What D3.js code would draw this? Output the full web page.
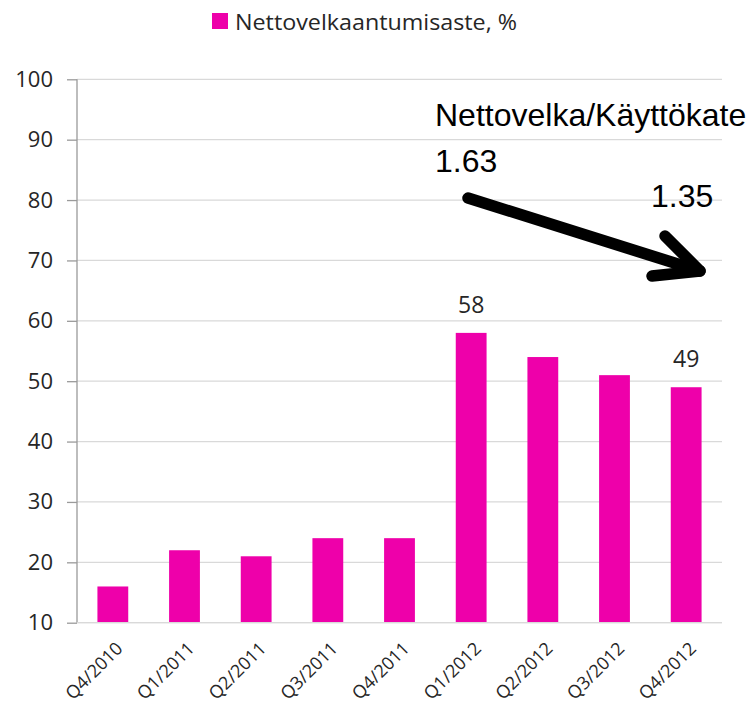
<!DOCTYPE html>
<html><head><meta charset="utf-8">
<script src="https://cdn.jsdelivr.net/npm/d3@7"></script>
<style>html,body{margin:0;padding:0;background:#fff;}</style>
</head><body>
<svg id="c" width="752" height="704"></svg>
<script>
const categories = ["Q4/2010","Q1/2011","Q2/2011","Q3/2011","Q4/2011","Q1/2012","Q2/2012","Q3/2012","Q4/2012"];
const values = [16, 22, 21, 24, 24, 58, 54, 51, 49];
const labeled = ["Q1/2012","Q4/2012"];
const yTicks = [10,20,30,40,50,60,70,80,90,100];
const seriesName = "Nettovelkaantumisaste, %";
const noteTitle = "Nettovelka/Käyttökate";
const noteStart = "1.63";
const noteEnd = "1.35";

const svg = d3.select("#c");
const barColor = "#EE00AA";
const pLeft = 77, pRight = 722, pTop = 79.3, pBottom = 622.7;

const x = d3.scaleBand().domain(categories).range([pLeft, pRight]).paddingInner(0.57).paddingOuter(0.285);
const y = d3.scaleLinear().domain([10, 100]).range([pBottom, pTop]);

// gridlines
svg.append("g").selectAll("line").data(yTicks).join("line")
  .attr("x1", pLeft).attr("x2", pRight)
  .attr("y1", d => y(d)).attr("y2", d => y(d))
  .attr("stroke", "#d9d9d9").attr("stroke-width", 1.3);

// y axis
const yAxis = d3.axisLeft(y).tickValues(yTicks).tickSize(10).tickPadding(14);
const ga = svg.append("g").attr("transform", `translate(${pLeft},0)`).call(yAxis);
ga.select(".domain").attr("stroke", "#9a9a9a").attr("stroke-width", 1.3).attr("d", `M0,${pTop}V${pBottom}`);
ga.selectAll(".tick line").attr("stroke", "#9a9a9a").attr("stroke-width", 1.3);
ga.selectAll(".tick text").attr("font-family", "Open Sans").attr("font-size", 22).attr("fill", "#262626");

// bars
svg.append("g").selectAll("rect").data(categories).join("rect")
  .attr("x", d => x(d)).attr("width", x.bandwidth())
  .attr("y", (d, i) => y(values[i])).attr("height", (d, i) => y(10) - y(values[i]))
  .attr("fill", barColor);

// bottom line
svg.append("line").attr("x1", pLeft).attr("x2", pRight).attr("y1", pBottom).attr("y2", pBottom)
  .attr("stroke", "#d9d9d9").attr("stroke-width", 1.3);

// x labels
const xAxis = d3.axisBottom(x).tickSize(0).tickPadding(0);
const gx = svg.append("g").attr("transform", `translate(0,${pBottom})`).call(xAxis);
gx.select(".domain").remove();
gx.selectAll(".tick text")
  .attr("font-family", "Open Sans").attr("font-size", 18).attr("fill", "#262626")
  .attr("text-anchor", "end").attr("dy", 0)
  .attr("transform", "translate(11,27) rotate(-45)");

// data labels
svg.append("g").selectAll("text").data(categories.filter(c => labeled.includes(c))).join("text")
  .attr("x", d => x(d) + x.bandwidth() / 2)
  .attr("y", d => y(values[categories.indexOf(d)]) - 20)
  .attr("text-anchor", "middle").attr("font-family", "Open Sans").attr("font-size", 23).attr("fill", "#262626")
  .text(d => values[categories.indexOf(d)]);

// legend
svg.append("rect").attr("x", 212).attr("y", 13).attr("width", 16).attr("height", 16).attr("fill", barColor);
svg.append("text").attr("x", 235).attr("y", 29.5).attr("font-family", "Open Sans").attr("font-size", 22)
  .attr("textLength", 282).attr("lengthAdjust", "spacingAndGlyphs").attr("fill", "#262626").text(seriesName);

// annotation
const ann = svg.append("g").attr("font-family", "Liberation Sans, Arial").attr("font-size", 32).attr("fill", "#000");
ann.append("text").attr("x", 435).attr("y", 126).text(noteTitle);
ann.append("text").attr("x", 435).attr("y", 172).text(noteStart);
ann.append("text").attr("x", 651).attr("y", 207).text(noteEnd);

// arrow
const arrow = svg.append("g").attr("stroke", "#000").attr("stroke-width", 11.5)
  .attr("stroke-linecap", "round").attr("stroke-linejoin", "round").attr("fill", "none");
arrow.append("line").attr("x1", 468).attr("y1", 198).attr("x2", 700).attr("y2", 271);
arrow.append("polyline").attr("points", "665,236 700,271 652,276");
</script>
</body></html>
